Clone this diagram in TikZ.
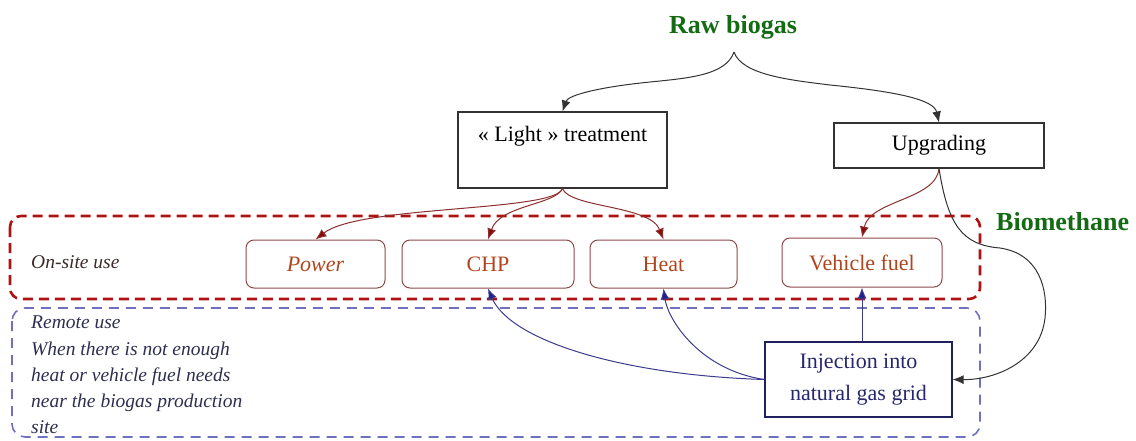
\documentclass[tikz,border=0pt]{standalone}
\usepackage{fontspec}
\setmainfont{Liberation Serif}
\usetikzlibrary{arrows.meta}
\definecolor{rawgreen}{HTML}{146B14}
\definecolor{framered}{HTML}{B01212}
\definecolor{frameblue}{HTML}{7070C0}
\definecolor{boxred}{HTML}{8E4A4A}
\definecolor{textred}{HTML}{B0441C}
\definecolor{linered}{HTML}{8C2F2F}
\definecolor{tipred}{HTML}{8B0A0A}
\definecolor{lineblue}{HTML}{3C3C8C}
\definecolor{tipblue}{HTML}{1E1E8C}
\definecolor{textblue}{HTML}{26266E}
\definecolor{remotetext}{HTML}{2E2E50}
\definecolor{onsitetext}{HTML}{3B2B2B}
\begin{document}
\begin{tikzpicture}[x=1pt,y=-1pt,
  title/.style={text=rawgreen, font=\fontsize{26}{30}\selectfont\bfseries},
  plainbox/.style={draw=black!80, line width=1.1pt, inner sep=0pt, fill=white},
  usebox/.style={draw=boxred, line width=1pt, rounded corners=8pt, text=textred, inner sep=0pt, font=\fontsize{22}{26}\selectfont},
  injbox/.style={draw=textblue!85!black, line width=1.1pt, inner sep=0pt, text=textblue, align=center, font=\fontsize{22}{32}\selectfont},
  redframe/.style={draw=framered, line width=2.6pt, dash pattern=on 10pt off 6pt, rounded corners=11pt},
  blueframe/.style={draw=frameblue, line width=1.6pt, dash pattern=on 10pt off 7pt, rounded corners=13pt},
  blackarrow/.style={draw=black!80, line width=1pt, -{Latex[length=11pt,width=9pt]}},
  redarrow/.style={draw=linered, line width=1pt, -{Latex[length=11pt,width=9pt,fill=tipred]}},
  bluearrow/.style={draw=lineblue, line width=1pt, -{Latex[length=11pt,width=9pt,fill=tipblue]}},
  sidetext/.style={font=\fontsize{19.5}{26.2}\selectfont\itshape, align=left, inner sep=0pt, anchor=west}
]
\useasboundingbox (0,0) rectangle (1136,440);

% frames
\draw[redframe] (10,216) rectangle (980,299);
\draw[blueframe] (12,308) rectangle (980,437);

% titles
\node[title] (raw) at (733,27) {Raw biogas};
\node[title, anchor=west, inner sep=0pt] (bio) at (996,222) {Biomethane};
\coordinate (rawtip) at (734,52);

% boxes
\node[plainbox, minimum width=209pt, minimum height=76pt] (light) at (562.5,150) {};
\node[font=\fontsize{22}{26}\selectfont, inner sep=0pt] (lighttext) at (562.5,136) {« Light » treatment};
\node[plainbox, minimum width=210pt, minimum height=45pt, font=\fontsize{22}{26}\selectfont] (upg) at (939,145.5) {Upgrading};

\node[usebox, minimum width=139pt, minimum height=48pt, font=\fontsize{22}{26}\selectfont\itshape] (power) at (315.5,264) {Power};
\node[usebox, minimum width=172pt, minimum height=48pt] (chp) at (488,264) {CHP};
\node[usebox, minimum width=147pt, minimum height=48pt] (heat) at (663.5,264) {Heat};
\node[usebox, minimum width=160pt, minimum height=49pt] (veh) at (862,262.5) {Vehicle fuel};

\node[injbox, minimum width=187pt, minimum height=75pt] (inj) at (858.5,379.5) {Injection into\\natural gas grid};

% side texts
\node[sidetext, text=onsitetext] (onsite) at (31,262) {On-site use};
\node[sidetext, text=remotetext, anchor=north west] (remote) at (31,316) {Remote use\\When there is not enough\\heat or vehicle fuel needs\\near the biogas production\\site};

% raw biogas brace
\draw[blackarrow] (rawtip) .. controls (726,75) and (690,78) .. (650,82)
   .. controls (600,87) and (568,95) .. (light.north);
\draw[blackarrow] (rawtip) .. controls (742,75) and (790,80) .. (830,85)
   .. controls (900,92) and (934,100) .. (upg.north);

% light treatment to uses
\draw[redarrow] (light.south) .. controls (555,212) and (360,205) .. (power.north);
\draw[redarrow] (light.south) .. controls (555,205) and (500,205) .. (chp.north);
\draw[redarrow] (light.south) .. controls (570,208) and (650,205) .. (heat.north);

% upgrading
\draw[redarrow] (upg.south) .. controls (936,200) and (870,200) .. (veh.north);
\draw[blackarrow] (upg.south) .. controls (948,225) and (962,245) .. (1000,248)
   .. controls (1040,254) and (1048,290) .. (1045,318)
   .. controls (1040,362) and (995,380) .. (inj.east);

% injection to uses
\draw[bluearrow] (inj.west) .. controls (620,375) and (510,340) .. (chp.south);
\draw[bluearrow] (inj.west) .. controls (700,370) and (668,320) .. (heat.south);
\draw[bluearrow] (inj.north -| veh.south) -- (veh.south);
\end{tikzpicture}
\end{document}
